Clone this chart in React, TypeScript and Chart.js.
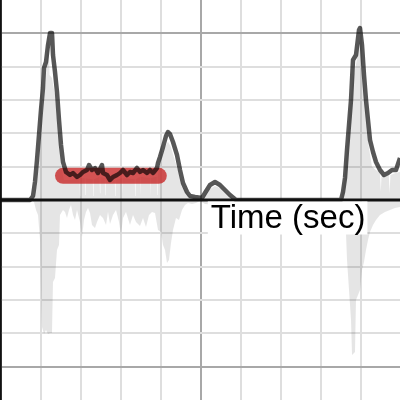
import React, { useEffect, useRef } from "react";
import { Chart, registerables } from "chart.js";

Chart.register(...registerables);

// Grid ticks (seconds / amplitude units)
const X_TICKS = [0, 1, 2, 3, 4, 5, 6, 7, 8, 9];
const Y_TICKS = [-5, -4, -3, -2, -1, 0, 1, 2, 3, 4, 5];
const AXIS_LABEL = "Time (sec)";

// Smoothed envelope (dark line)
const ENV_T = [0, 0.73, 0.805, 0.855, 0.905, 0.955, 1.005, 1.055, 1.08, 1.13, 1.18, 1.23, 1.28, 1.305, 1.355, 1.405, 1.455, 1.505, 1.555, 1.63, 1.73, 1.805, 1.905, 1.98, 2.055, 2.155, 2.205, 2.28, 2.355, 2.43, 2.53, 2.555, 2.655, 2.73, 2.805, 2.905, 2.98, 3.055, 3.155, 3.23, 3.305, 3.405, 3.48, 3.555, 3.655, 3.73, 3.805, 3.905, 3.93, 3.98, 4.055, 4.13, 4.18, 4.23, 4.305, 4.405, 4.48, 4.555, 4.655, 4.73, 4.855, 5.03, 5.105, 5.23, 5.355, 5.48, 5.605, 5.73, 5.88, 8.505, 8.555, 8.605, 8.655, 8.705, 8.755, 8.805, 8.88, 8.955, 8.98, 9.03, 9.08, 9.13, 9.18, 9.23, 9.305, 9.38, 9.48, 9.58, 9.68, 9.78, 9.88, 9.98];
const ENV_V = [0, 0, 0.12, 0.54, 1.2, 1.95, 2.7, 3.36, 3.96, 4.14, 4.65, 5.01, 5.01, 4.35, 3.84, 3.24, 2.4, 1.65, 1.14, 0.84, 0.75, 0.81, 0.69, 0.75, 0.84, 0.9, 1.05, 0.9, 0.96, 0.81, 1.05, 0.81, 0.75, 0.6, 0.69, 0.75, 0.81, 0.9, 0.75, 0.84, 0.81, 0.96, 0.84, 0.9, 0.81, 0.9, 0.81, 0.96, 1.11, 1.29, 1.59, 1.92, 2.04, 1.98, 1.74, 1.35, 0.9, 0.51, 0.24, 0.12, 0.09, 0.06, 0.21, 0.45, 0.54, 0.45, 0.3, 0.15, 0, 0, 0.24, 0.66, 1.5, 2.25, 3.0, 4.2, 4.35, 5.1, 5.16, 4.65, 3.75, 3.0, 2.4, 1.8, 1.44, 1.14, 0.9, 0.75, 0.81, 0.9, 0.9, 1.26];

// Raw signal, upper contour (positive part)
const RAW_UP_T = [0.73, 0.83, 0.905, 0.98, 1.055, 1.13, 1.17, 1.19, 1.22, 1.28, 1.355, 1.43, 1.505, 1.58, 1.73, 1.97, 1.98, 1.99, 2.1, 2.11, 2.12, 2.3, 2.31, 2.32, 2.47, 2.48, 2.49, 2.6, 2.61, 2.62, 2.85, 2.86, 2.87, 3.03, 3.04, 3.05, 3.35, 3.36, 3.37, 3.48, 3.49, 3.5, 3.73, 3.74, 3.75, 3.9, 3.91, 3.92, 4.0, 4.1, 4.18, 4.25, 4.35, 4.45, 4.55, 4.7, 4.9, 5.05, 5.2, 5.35, 5.5, 5.65, 5.8, 5.88, 8.5, 8.58, 8.65, 8.72, 8.8, 8.9, 8.96, 9.0, 9.05, 9.12, 9.2, 9.28, 9.38, 9.48, 9.5, 9.52, 9.6, 9.7, 9.72, 9.74, 9.85, 9.98];
const RAW_UP_V = [0, 0.12, 0.45, 1.5, 2.7, 3.6, 4.8, 5.1, 3.75, 3.66, 3.15, 2.1, 1.05, 0.6, 0.6, 0.66, 0.12, 0.66, 0.65, 0.15, 0.65, 0.62, 0.12, 0.62, 0.7, 0.2, 0.7, 0.66, 0.14, 0.66, 0.6, 0.12, 0.6, 0.66, 0.2, 0.66, 0.62, 0.12, 0.62, 0.7, 0.15, 0.7, 0.66, 0.12, 0.66, 0.7, 0.15, 0.7, 1.2, 1.6, 1.75, 1.6, 1.2, 0.8, 0.4, 0.12, 0.08, 0.05, 0.3, 0.42, 0.35, 0.2, 0.05, 0, 0, 0.5, 1.4, 2.7, 3.6, 4.2, 4.8, 4.5, 3.6, 2.7, 1.6, 1.0, 0.9, 0.8, 0.25, 0.8, 0.7, 0.75, 0.2, 0.75, 0.8, 0.85];

// Raw signal, lower contour (negative part)
const RAW_LO_T = [0.73, 0.83, 0.88, 0.93, 0.98, 1.005, 1.03, 1.08, 1.13, 1.18, 1.23, 1.28, 1.305, 1.355, 1.405, 1.455, 1.48, 1.555, 1.605, 1.655, 1.705, 1.755, 1.805, 1.855, 1.905, 1.98, 2.03, 2.08, 2.13, 2.18, 2.23, 2.28, 2.355, 2.405, 2.48, 2.555, 2.63, 2.68, 2.73, 2.805, 2.88, 2.955, 3.005, 3.055, 3.13, 3.23, 3.305, 3.38, 3.48, 3.555, 3.63, 3.705, 3.78, 3.855, 3.93, 4.005, 4.055, 4.105, 4.155, 4.205, 4.255, 4.305, 4.38, 4.455, 4.53, 4.605, 4.68, 4.78, 4.88, 4.98, 5.105, 5.355, 5.6, 5.88, 8.505, 8.555, 8.605, 8.655, 8.705, 8.755, 8.78, 8.855, 8.88, 8.93, 8.98, 9.03, 9.08, 9.13, 9.18, 9.23, 9.305, 9.38, 9.48, 9.605, 9.73, 9.855, 9.98];
const RAW_LO_V = [0, -0.06, -0.3, -0.45, -1.2, -2.7, -3.81, -4.02, -3.9, -4.02, -3.99, -3.99, -2.46, -2.34, -1.5, -1.35, -0.45, -0.3, -0.36, -0.54, -0.3, -0.15, -0.45, -0.6, -0.3, -0.66, -1.11, -0.6, -0.36, -0.24, -0.39, -0.75, -0.84, -0.66, -0.45, -0.54, -0.75, -0.36, -0.72, -0.45, -0.3, -0.66, -1.05, -0.54, -0.36, -0.75, -0.45, -0.66, -0.78, -0.54, -0.81, -0.45, -0.36, -0.39, -0.9, -0.96, -1.35, -1.5, -1.89, -1.8, -1.29, -0.9, -0.54, -0.6, -0.3, -0.15, -0.09, -0.12, -0.09, -0.03, -0.12, -0.15, -0.12, 0, 0, -0.09, -0.21, -1.8, -2.7, -3.6, -4.65, -4.56, -3.0, -2.85, -2.7, -2.1, -1.86, -1.5, -1.2, -0.96, -0.75, -0.6, -0.45, -0.36, -0.3, -0.24, -0.21];

// Highlighted plateau segment (red)
const BAND_T = [1.555, 3.95];
const BAND_V = [0.726, 0.726];

const pts = (t: number[], v: number[]) => t.map((x, i) => ({ x, y: v[i] }));

export default function App() {
  const ref = useRef<HTMLCanvasElement | null>(null);

  useEffect(() => {
    document.body.style.margin = "0";
    const canvas = ref.current;
    if (!canvas) return;

    const overlay = {
      id: "overlay",
      afterDatasetsDraw(chart: any) {
        const { ctx, scales, chartArea } = chart;
        const x0 = scales.x.getPixelForValue(0);
        const y0 = scales.y.getPixelForValue(0);
        ctx.save();
        // axes
        ctx.strokeStyle = "#111";
        ctx.lineWidth = 3;
        ctx.beginPath();
        ctx.moveTo(chartArea.left, y0);
        ctx.lineTo(chartArea.right, y0);
        ctx.stroke();
        ctx.lineWidth = 2;
        ctx.beginPath();
        ctx.moveTo(x0, chartArea.top);
        ctx.lineTo(x0, chartArea.bottom);
        ctx.stroke();
        // axis label
        ctx.font = '33px "Liberation Sans", Arial, sans-serif';
        const tx = scales.x.getPixelForValue(5.25);
        const w = ctx.measureText(AXIS_LABEL).width;
        ctx.fillStyle = "#fff";
        ctx.fillRect(tx - 3, y0 + 1.5, w + 5, 33);
        ctx.fillStyle = "#000";
        ctx.textBaseline = "alphabetic";
        ctx.textAlign = "left";
        ctx.fillText(AXIS_LABEL, tx, y0 + 28);
        ctx.restore();
      },
    };

    const gridColor = (c: any) =>
      c.tick && c.tick.value % 5 === 0 ? "#a8a8a8" : "#dedede";

    const chart = new Chart(canvas, {
      type: "line",
      data: {
        datasets: [
          {
            data: pts(ENV_T, ENV_V),
            borderColor: "rgba(0,0,0,0.66)",
            borderWidth: 4.5,
            borderJoinStyle: "round",
            pointRadius: 0,
            fill: false,
            tension: 0,
            order: 0,
          },
          {
            data: pts(BAND_T, BAND_V),
            borderColor: "rgba(200,40,40,0.8)",
            borderWidth: 16,
            borderCapStyle: "round",
            pointRadius: 0,
            fill: false,
            order: 1,
          },
          {
            data: pts(RAW_UP_T, RAW_UP_V),
            borderColor: "transparent",
            borderWidth: 0,
            backgroundColor: "rgba(0,0,0,0.1)",
            pointRadius: 0,
            fill: "origin",
            tension: 0,
            order: 2,
          },
          {
            data: pts(RAW_LO_T, RAW_LO_V),
            borderColor: "transparent",
            borderWidth: 0,
            backgroundColor: "rgba(0,0,0,0.1)",
            pointRadius: 0,
            fill: "origin",
            tension: 0,
            order: 3,
          },
        ],
      },
      options: {
        animation: false,
        responsive: false,
        maintainAspectRatio: false,
        devicePixelRatio: 1,
        events: [],
        layout: { padding: 0 },
        plugins: {
          legend: { display: false },
          tooltip: { enabled: false },
        },
        scales: {
          x: {
            type: "linear",
            min: -0.02,
            max: 9.98,
            afterBuildTicks: (s: any) => {
              s.ticks = X_TICKS.map((value) => ({ value }));
            },
            ticks: { display: false },
            border: { display: false },
            grid: { color: gridColor, lineWidth: 2, drawTicks: false },
          },
          y: {
            type: "linear",
            min: -6,
            max: 6,
            afterBuildTicks: (s: any) => {
              s.ticks = Y_TICKS.map((value) => ({ value }));
            },
            ticks: { display: false },
            border: { display: false },
            grid: { color: gridColor, lineWidth: 2, drawTicks: false },
          },
        },
      },
      plugins: [overlay],
    } as any);

    return () => chart.destroy();
  }, []);

  return (
    <div style={{ width: 400, height: 400 }}>
      <canvas ref={ref} width={400} height={400} style={{ display: "block" }} />
    </div>
  );
}
